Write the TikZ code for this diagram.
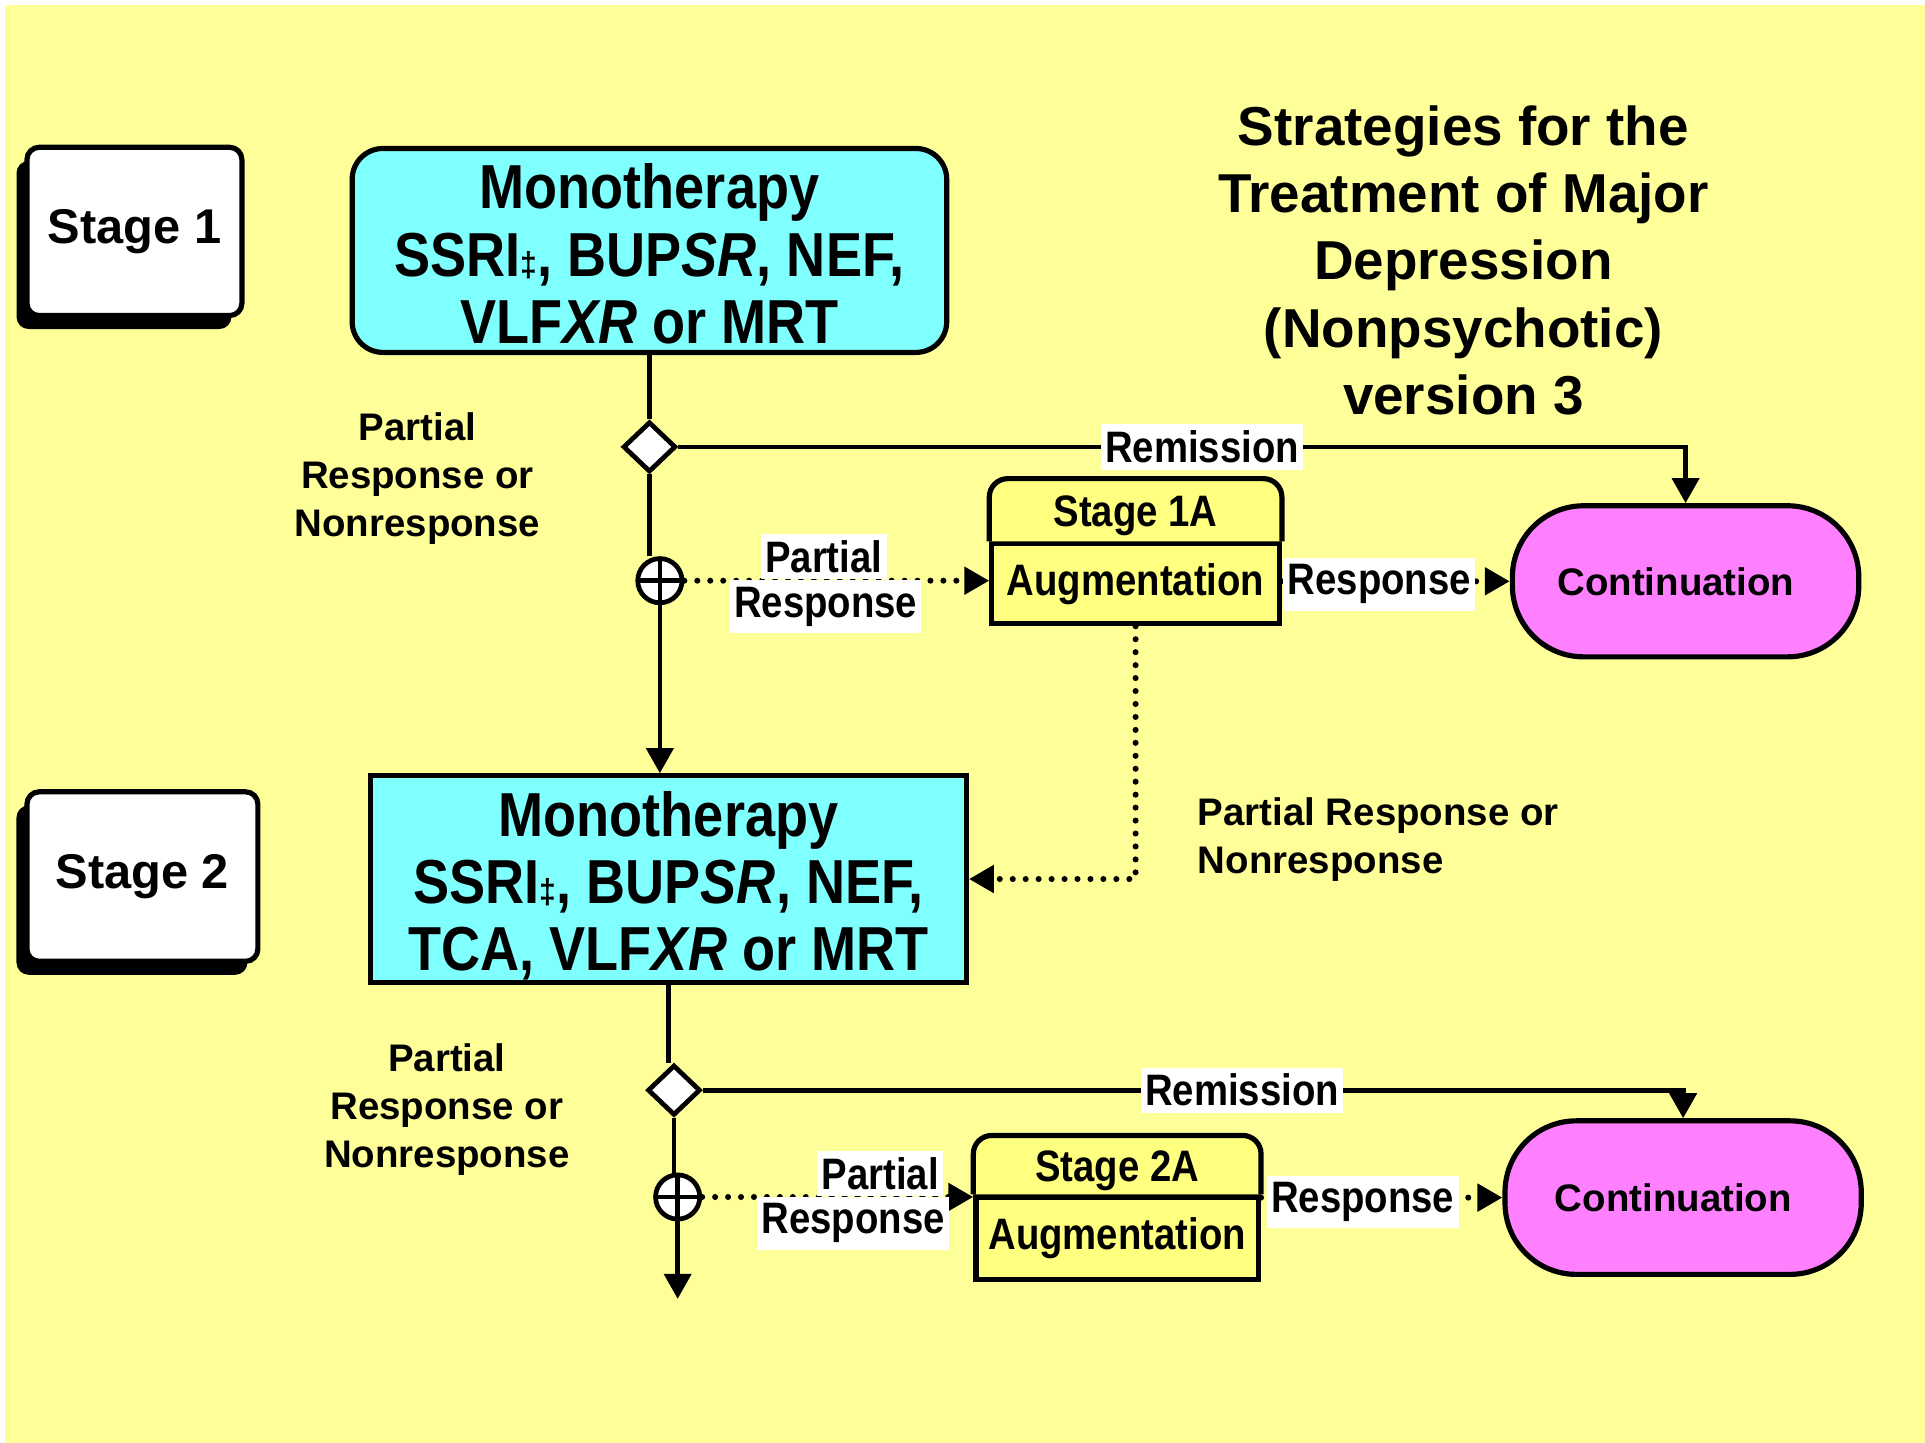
\documentclass[tikz,border=0pt]{standalone}
\usepackage{fontspec}
\setmainfont{Liberation Sans}
\newfontfamily\narrowfont{Liberation Sans}[FakeStretch=0.87]
\usetikzlibrary{arrows.meta,shapes.geometric,shadows}
\definecolor{bgyellow}{HTML}{FFFF99}
\definecolor{boxcyan}{HTML}{80FFFF}
\definecolor{augyellow}{HTML}{FFFF80}
\definecolor{contpink}{HTML}{FF80FF}
\newcommand\dgr{{\fontsize{8}{8}\selectfont ‡}}

\begin{document}
\begin{tikzpicture}[x=0.01cm,y=-0.01cm,
  conn/.style={line width=1.1pt},
  arr/.style={conn,-{Triangle[length=5.8pt,width=6.2pt]}},
  dotarr/.style={arr,line width=1.4pt,dash pattern=on 0pt off 3pt,line cap=round},
  stagebox/.style={draw,fill=white,line width=1.2pt,rounded corners=0.1cm,font=\bfseries\fontsize{11.3}{13}\selectfont,
    drop shadow={shadow xshift=-0.085cm,shadow yshift=-0.11cm,fill=black,opacity=1}},
  monobox/.style={draw,fill=boxcyan,line width=1.2pt,align=center,inner sep=0pt,font=\narrowfont\bfseries\fontsize{14.4}{15.6}\selectfont},
  augbody/.style={draw,fill=augyellow,line width=1.2pt,inner sep=0pt,font=\narrowfont\bfseries\fontsize{10.2}{12}\selectfont},
  augtext/.style={inner sep=0pt,font=\narrowfont\bfseries\fontsize{10.2}{12}\selectfont},
  contbox/.style={draw,fill=contpink,line width=1.2pt,rounded corners=0.58cm,inner sep=0pt,font=\bfseries\fontsize{8.9}{11}\selectfont},
  decision/.style={diamond,draw,fill=white,line width=1.1pt,inner sep=0pt,minimum width=0.43cm,minimum height=0.41cm},
  junction/.style={circle,draw,fill=white,line width=1.1pt,inner sep=0pt,minimum size=0.36cm,
    path picture={\draw[line width=1.1pt] (path picture bounding box.north) -- (path picture bounding box.south)
      (path picture bounding box.west) -- (path picture bounding box.east);}},
  lbl/.style={fill=white,inner xsep=1pt,inner ysep=1.5pt,font=\narrowfont\bfseries\fontsize{10.2}{12}\selectfont},
  sidenote/.style={align=center,inner sep=0pt,font=\bfseries\fontsize{8.9}{11.1}\selectfont},
  headline/.style={align=center,inner sep=0pt,font=\bfseries\fontsize{12.7}{15.6}\selectfont}]
  \useasboundingbox (0,0) rectangle (1568,1175);
  \fill[bgyellow] (4,4) rectangle (1568,1175);

  \node[stagebox,minimum width=1.75cm,minimum height=1.37cm] (s1) at (109.5,188.5) {Stage 1};
  \node[stagebox,minimum width=1.88cm,minimum height=1.38cm] (s2) at (116,714) {Stage 2};
  \node[monobox,rounded corners=0.25cm,minimum width=4.84cm,minimum height=1.66cm] (m1) at (529,204)
    {\rule{0pt}{12pt}Monotherapy\\SSRI\dgr, BUP\textit{SR}, NEF,\\VLF\textit{XR} or MRT};
  \node[monobox,minimum width=4.85cm,minimum height=1.68cm] (m2) at (544.5,716)
    {\rule{0pt}{13.5pt}Monotherapy\\SSRI\dgr, BUP\textit{SR}, NEF,\\TCA, VLF\textit{XR} or MRT};
  \node[headline] (ttl) at (1192,212) {Strategies for the\\Treatment of Major\\Depression\\(Nonpsychotic)\\version 3};

  \node[decision] (d1) at (529,364) {};
  \node[junction] (p1) at (537.5,473) {};
  \node[augbody,minimum width=2.34cm,minimum height=0.65cm] (a1b) at (925,475.5) {Augmentation};
  \draw[fill=augyellow,line width=1.2pt,rounded corners=0.15cm] (a1b.north west) -- ++(0,-51) -| (a1b.north east);
  \node[augtext] (a1h) at (925,420) {Stage 1A};
  \node[contbox,minimum width=2.82cm,minimum height=1.23cm] (c1) at (1373,473.5) {Continuation\hspace*{4.5pt}};
  \node[sidenote] (n1) at (340,390) {Partial\\Response or\\Nonresponse};
  \node[sidenote,align=left,anchor=west] (n3) at (975,683.5) {Partial Response or\\Nonresponse};

  \draw[conn] (m1) -- (d1);
  \draw[arr] (d1.east) -| node[lbl,pos=0.26] (r1) {Remission} (c1.north);
  \draw[conn] (d1.south) -- (d1.south |- p1.north);
  \draw[arr] (p1.south) -- (p1.south |- m2.north);
  \draw[dotarr] (p1.east) -- (p1.east -| a1b.west);
  \node[lbl] (pr1a) at (671,453.5) {Partial};
  \node[lbl] (pr1b) at (672.5,494) {Response};
  \draw[dotarr] (c1.west -| a1b.east) -- (c1.west);
  \node[lbl] (rs1) at (1123.5,476) {Response};
  \draw[dotarr] (a1b.south) |- (m2.east);

  \node[decision] (d2) at (549,888) {};
  \node[junction] (p2) at (552,975) {};
  \node[augbody,minimum width=2.30cm,minimum height=0.67cm] (a2b) at (910,1008.5) {Augmentation};
  \draw[fill=augyellow,line width=1.2pt,rounded corners=0.15cm] (a2b.north west) -- ++(0,-48) -| (a2b.north east);
  \node[augtext] (a2h) at (910,954) {Stage 2A};
  \node[contbox,minimum width=2.90cm,minimum height=1.25cm] (c2) at (1371,975.5) {Continuation\hspace*{4.5pt}};
  \node[sidenote] (n2) at (364,904) {Partial\\Response or\\Nonresponse};
  \coordinate (end2) at (551,1058);

  \draw[conn] (m2.south) -- (m2.south |- d2.north);
  \draw[arr] (d2.east) -| node[lbl,pos=0.275] (r2) {Remission} (c2.north);
  \draw[conn] (d2.south) -- (d2.south |- p2.north);
  \draw[arr] (p2.south) -- (p2.south |- end2);
  \draw[dotarr] (p2.east) -- (p2.east -| a2b.west);
  \node[lbl] (pr2a) at (717,956) {Partial};
  \node[lbl] (pr2b) at (695,996.5) {Response};
  \draw[dotarr] (c2.west -| a2b.east) -- (c2.west);
  \node[lbl] (rs2) at (1110,979) {Response};
\end{tikzpicture}
\end{document}
